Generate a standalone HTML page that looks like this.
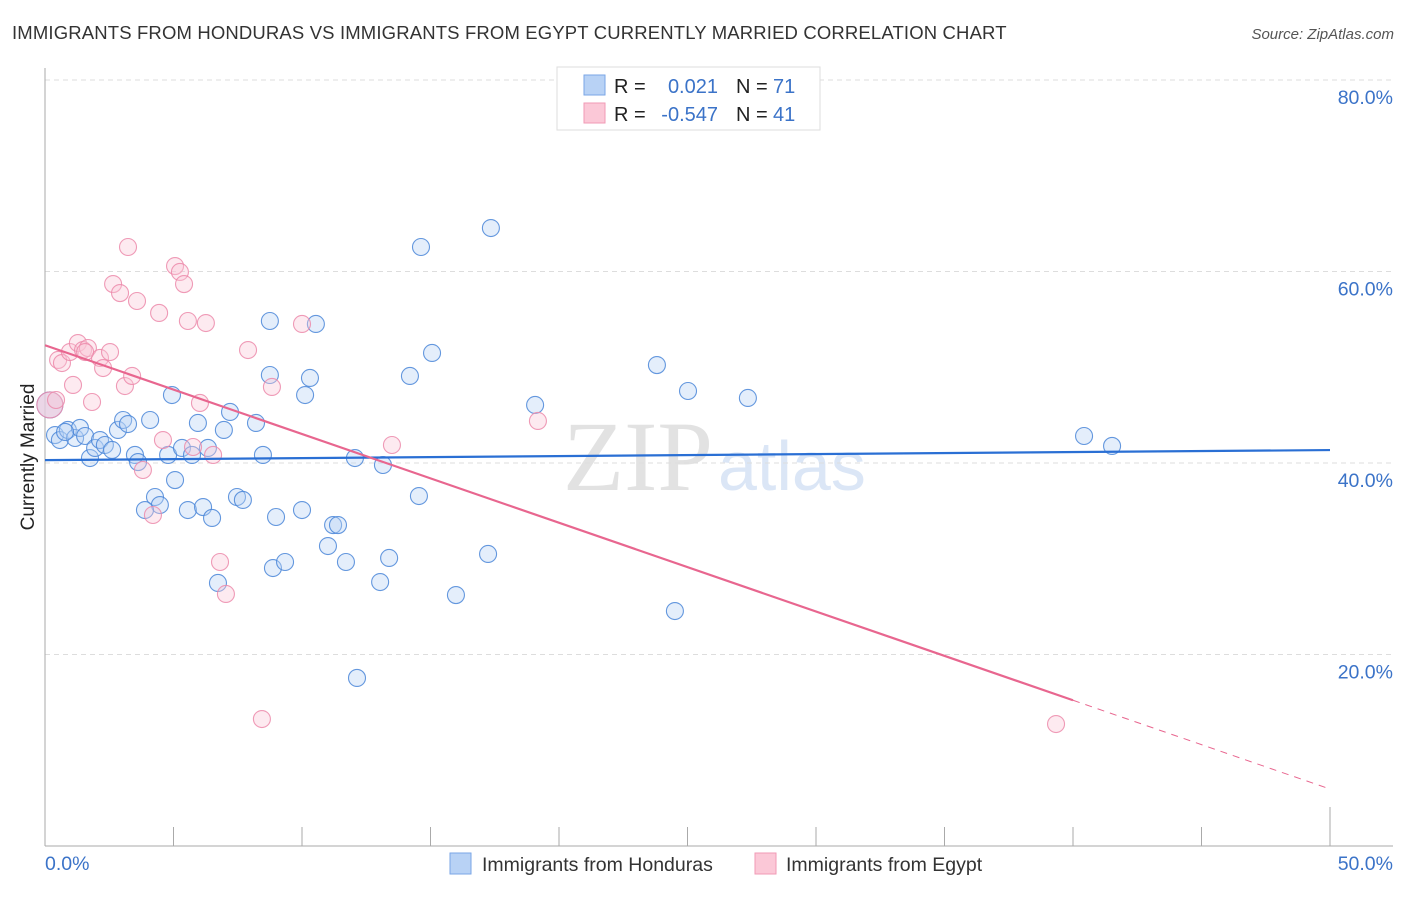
<!DOCTYPE html>
<html><head><meta charset="utf-8"><style>
body{margin:0;background:#fff;font-family:"Liberation Sans",sans-serif}
</style></head><body>
<svg id="c" width="1406" height="892" xmlns="http://www.w3.org/2000/svg">
<text x="12" y="39" font-size="18.5" letter-spacing="0.15" fill="#333">IMMIGRANTS FROM HONDURAS VS IMMIGRANTS FROM EGYPT CURRENTLY MARRIED CORRELATION CHART</text>
<text x="1394" y="39" font-size="15" fill="#555" font-style="italic" text-anchor="end">Source: ZipAtlas.com</text>
<text x="713" y="490" font-size="100" fill="#e2e2e2" font-family="Liberation Serif,serif" text-anchor="end">ZIP</text>
<text x="718" y="490" font-size="70" fill="#dbe6f6">atlas</text>
<g id="grid"></g><g id="axes"></g><g id="pts"></g><g id="lines"></g>
<text transform="translate(34,457) rotate(-90)" font-size="19" fill="#222" text-anchor="middle">Currently Married</text>
<g>
<rect x="557" y="67" width="263" height="63" fill="#fff" stroke="#ddd"/>
<rect x="584" y="75" width="21" height="20" fill="#b8d2f5" stroke="#7aa6e6"/>
<rect x="584" y="103" width="21" height="20" fill="#fbc8d7" stroke="#f09ab5"/>
<text x="614" y="93" font-size="20" fill="#222">R = </text><text x="718" y="93" font-size="20" fill="#3b73c8" text-anchor="end">0.021</text>
<text x="736" y="93" font-size="20" fill="#222">N = </text><text x="773" y="93" font-size="20" fill="#3b73c8">71</text>
<text x="614" y="121" font-size="20" fill="#222">R = </text><text x="718" y="121" font-size="20" fill="#3b73c8" text-anchor="end">-0.547</text>
<text x="736" y="121" font-size="20" fill="#222">N = </text><text x="773" y="121" font-size="20" fill="#3b73c8">41</text>
</g>
<g>
<rect x="450" y="853" width="21" height="21" fill="#b8d2f5" stroke="#7aa6e6"/>
<text x="482" y="871" font-size="19.5" fill="#333">Immigrants from Honduras</text>
<rect x="755" y="853" width="21" height="21" fill="#fbc8d7" stroke="#f09ab5"/>
<text x="786" y="871" font-size="19.5" fill="#333">Immigrants from Egypt</text>
</g>
</svg>
<script>
const yTicks=[20,40,60,80];
const xTickLabels=["0.0%","50.0%"];
const bluePx=[[50,405],[55,435],[60,440],[68,430],[75,438],[80,428],[85,436],[90,458],[95,448],[100,440],[105,445],[112,450],[118,430],[123,420],[128,424],[135,455],[138,462],[150,420],[155,497],[160,505],[145,510],[168,455],[172,395],[175,480],[182,448],[188,510],[192,455],[198,423],[203,507],[208,448],[212,518],[218,583],[224,430],[230,412],[237,497],[243,500],[256,423],[263,455],[270,375],[270,321],[276,517],[273,568],[285,562],[302,510],[305,395],[310,378],[316,324],[328,546],[333,525],[338,525],[346,562],[355,458],[357,678],[380,582],[383,465],[389,558],[410,376],[419,496],[421,247],[432,353],[456,595],[488,554],[491,228],[535,405],[657,365],[675,611],[688,391],[748,398],[1084,436],[1112,446],[65,432]];
const pinkPx=[[50,405],[58,360],[62,363],[70,352],[73,385],[78,343],[83,350],[88,348],[92,402],[100,358],[103,368],[110,352],[125,386],[128,247],[132,376],[113,284],[120,293],[137,301],[143,470],[153,515],[159,313],[163,440],[175,266],[180,272],[184,284],[188,321],[193,447],[200,403],[206,323],[213,455],[220,562],[226,594],[248,350],[262,719],[272,387],[302,324],[392,445],[538,421],[1056,724],[85,352],[56,400]];
const blueX=bluePx.map(p=>+((p[0]-45)/25.7).toFixed(2)), blueY=bluePx.map(p=>+((846-p[1])/9.575).toFixed(2));
const pinkX=pinkPx.map(p=>+((p[0]-45)/25.7).toFixed(2)), pinkY=pinkPx.map(p=>+((846-p[1])/9.575).toFixed(2));
const blueTrend=[40.3,41.35];
const pinkTrend=[52.3,5.95];
const pinkSolidEnd=40;
const X=v=>45+v*25.7, Y=v=>846-v*9.575;
const NS="http://www.w3.org/2000/svg";
function mk(t,a,p){const e=document.createElementNS(NS,t);for(const k in a)e.setAttribute(k,a[k]);document.getElementById(p).appendChild(e);return e;}
yTicks.forEach(t=>{
 const l=mk('line',{x1:45,x2:1393,y1:Y(t),y2:Y(t),stroke:'#ddd','stroke-dasharray':'5,4'},'grid');
 
 
 const tx=mk('text',{x:1393,y:Y(t)+24,'font-size':19.5,fill:'#3b73c8','text-anchor':'end'},'grid');
 tx.textContent=t.toFixed(1)+'%';
 
 
});
let a=mk('line',{x1:45,x2:45,y1:68,y2:846,stroke:'#aaa'},'axes');


a=mk('line',{x1:45,x2:1393,y1:846,y2:846,stroke:'#aaa'},'axes');


for(let i=0;i<=10;i++){const v=i*5;const tk=mk('line',{x1:X(v),x2:X(v),y1:v==50?807:827,y2:846,stroke:'#aaa'},'axes');
 
 }
[[0,45,'start'],[1,1393,'end']].forEach(([i,x,an])=>{const t=mk('text',{x:x,y:870,'font-size':19.5,fill:'#3b73c8','text-anchor':an},'axes');t.textContent=xTickLabels[i];
 
 });
function dots(xs,ys,fill,stroke,name){xs.forEach((x,i)=>{const big=i==0;const c=mk('circle',{cx:X(x),cy:Y(ys[i]),r:big?13:8.5,fill:fill,'fill-opacity':big?0.55:0.38,stroke:stroke,'stroke-width':1.1,'stroke-opacity':0.85},'pts');
 
 });}
dots(blueX,blueY,'#b8d2f5','#4a86d8','honduras-point');
dots(pinkX,pinkY,'#fbc8d7','#ec8aaa','egypt-point');
let ln=mk('line',{x1:X(0),y1:Y(blueTrend[0]),x2:X(50),y2:Y(blueTrend[1]),stroke:'#2a6fd4','stroke-width':2.2},'lines');


const py=v=>pinkTrend[0]+(pinkTrend[1]-pinkTrend[0])*v/50;
ln=mk('line',{x1:X(0),y1:Y(py(0)),x2:X(pinkSolidEnd),y2:Y(py(pinkSolidEnd)),stroke:'#e8668f','stroke-width':2.2},'lines');


ln=mk('line',{x1:X(pinkSolidEnd),y1:Y(py(pinkSolidEnd)),x2:X(50),y2:Y(py(50)),stroke:'#e8668f','stroke-width':1,'stroke-dasharray':'7,6'},'lines');


</script>
</body></html>
